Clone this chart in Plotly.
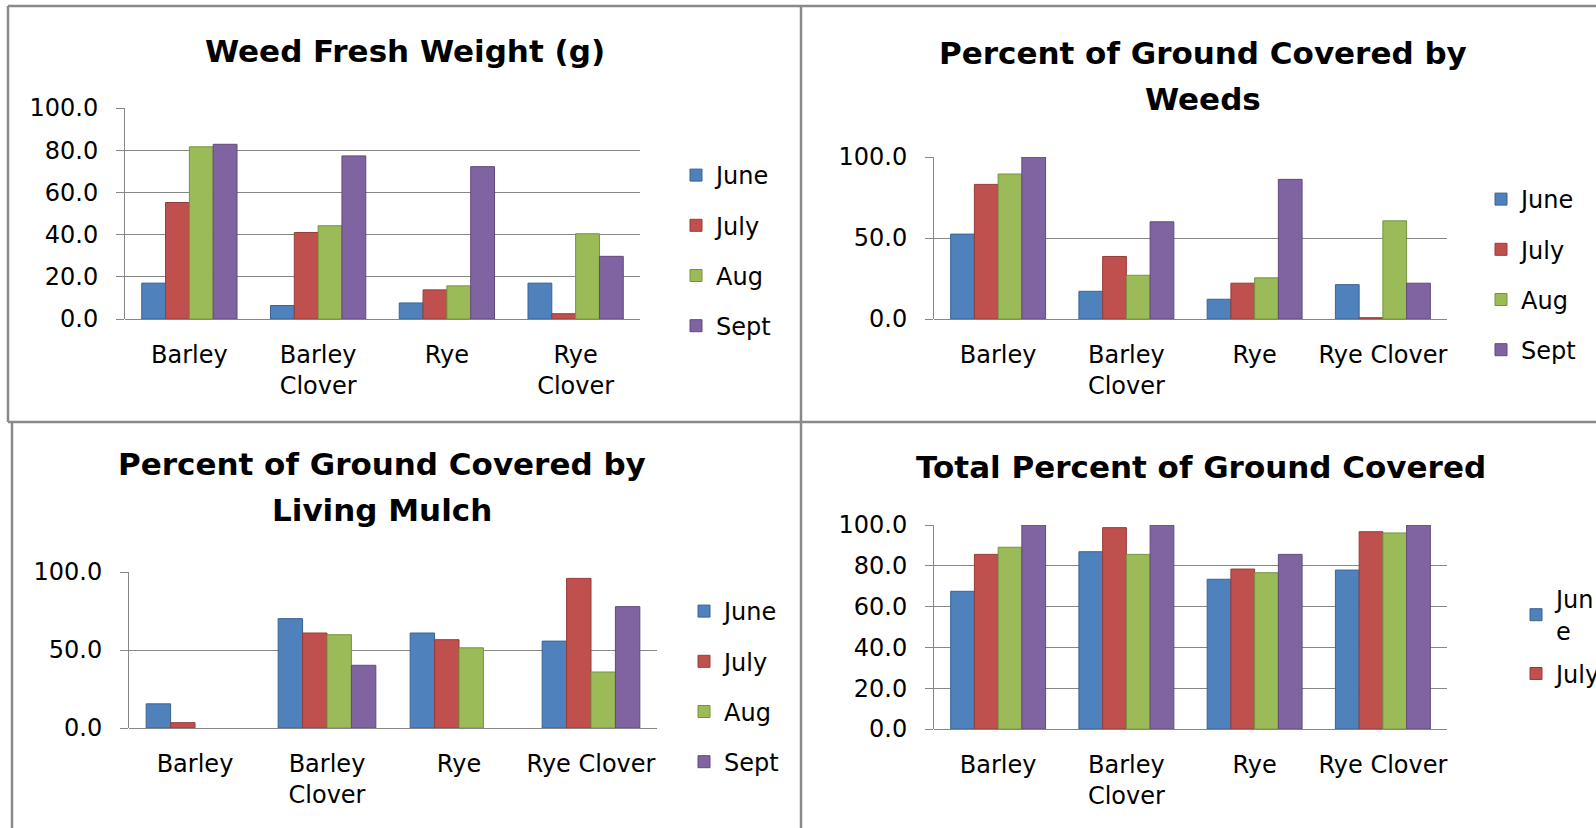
import plotly.graph_objects as go

W, H = 1596, 828

months = ["June", "July", "Aug", "Sept"]
colors = ["#4F81BD", "#C0504D", "#9BBB59", "#8064A2"]
edges = ["#3A6393", "#953C3A", "#76923F", "#5F4A7C"]

cats_wrap_all = ["Barley", "Barley<br>Clover", "Rye", "Rye<br>Clover"]
cats_wrap_one = ["Barley", "Barley<br>Clover", "Rye", "Rye Clover"]

# Weed Fresh Weight (g)
fw_june = [17.0, 6.4, 7.6, 17.0]
fw_july = [55.2, 41.0, 13.8, 2.5]
fw_aug = [81.6, 44.2, 15.7, 40.4]
fw_sept = [82.8, 77.3, 72.2, 29.7]

# Percent of Ground Covered by Weeds
wd_june = [52.4, 17.1, 12.2, 21.2]
wd_july = [83.1, 38.6, 22.1, 0.8]
wd_aug = [89.5, 27.0, 25.4, 60.6]
wd_sept = [100.0, 60.0, 86.2, 22.1]

# Percent of Ground Covered by Living Mulch (no bar drawn -> None)
lm_june = [15.5, 70.1, 60.9, 55.7]
lm_july = [3.4, 60.9, 56.6, 95.9]
lm_aug = [None, 59.8, 51.4, 35.9]
lm_sept = [None, 40.2, None, 77.8]

# Total Percent of Ground Covered
tot_june = [67.5, 86.9, 73.4, 77.9]
tot_july = [85.6, 98.7, 78.4, 96.7]
tot_aug = [89.1, 85.6, 76.6, 96.1]
tot_sept = [100.0, 100.0, 85.6, 100.0]

FONT = "DejaVu Sans"
TSIZE = 24
GRID = "#868686"
BORDER = "#8a8a8a"


def px(x):
    return x / W


def py(y):
    return 1 - y / H


fig = go.Figure()

panels = [
    dict(ax="", cats=cats_wrap_all, data=[fw_june, fw_july, fw_aug, fw_sept],
         x=(125, 640), y=(108, 319), dtick=20, legend="legend", names=months, show=[1, 1, 1, 1]),
    dict(ax="2", cats=cats_wrap_one, data=[wd_june, wd_july, wd_aug, wd_sept],
         x=(934, 1447), y=(157, 319), dtick=50, legend="legend2", names=months, show=[1, 1, 1, 1]),
    dict(ax="3", cats=cats_wrap_one, data=[lm_june, lm_july, lm_aug, lm_sept],
         x=(129, 657), y=(572, 728), dtick=50, legend="legend3", names=months, show=[1, 1, 1, 1]),
    dict(ax="4", cats=cats_wrap_one, data=[tot_june, tot_july, tot_aug, tot_sept],
         x=(934, 1447), y=(525, 729), dtick=20, legend="legend4",
         names=["Jun<br>e", "July", "Aug", "Sept"], show=[1, 1, 0, 0]),
]

layout = dict(
    template="none",
    width=W, height=H,
    margin=dict(l=0, r=0, t=0, b=0, pad=0, autoexpand=False),
    paper_bgcolor="white", plot_bgcolor="white",
    barmode="group", bargap=0.26, bargroupgap=0,
    font=dict(family=FONT, size=TSIZE, color="#000000"),
    showlegend=True,
)

for p in panels:
    a = p["ax"]
    for i in range(4):
        fig.add_trace(go.Bar(
            x=p["cats"], y=p["data"][i], name=p["names"][i],
            marker=dict(color=colors[i], line=dict(color=edges[i], width=1)),
            xaxis="x" + a, yaxis="y" + a,
            legend=p["legend"], legendgroup=p["legend"] + str(i),
            showlegend=bool(p["show"][i]),
        ))
    layout["xaxis" + a] = dict(
        domain=[px(p["x"][0]), px(p["x"][1])], anchor="y" + a,
        automargin=False,
        showgrid=False, showline=False, ticks="", tickangle=0,
        ticklabelstandoff=19, tickfont=dict(size=TSIZE, color="#000"),
        categoryorder="array", categoryarray=p["cats"],
    )
    layout["yaxis" + a] = dict(
        domain=[py(p["y"][1]), py(p["y"][0])], anchor="x" + a,
        automargin=False,
        range=[0, 100], dtick=p["dtick"], tick0=0, tickformat=".1f",
        showgrid=True, gridcolor=GRID, gridwidth=1,
        showline=True, linecolor=GRID, linewidth=1,
        ticks="outside", ticklen=8, tickcolor=GRID, tickwidth=1,
        ticklabelstandoff=13, tickfont=dict(size=TSIZE, color="#000"),
        zeroline=True, zerolinecolor=GRID, zerolinewidth=1,
    )

legpos = {
    "legend": (676, 153, 16),
    "legend2": (1481, 177, 16),
    "legend3": (684, 589, 16),
    "legend4": (1516, 577, 9),
}
for k, (lx, ly, gap) in legpos.items():
    layout[k] = dict(
        x=px(lx), y=py(ly), xanchor="left", yanchor="top",
        traceorder="grouped", tracegroupgap=gap,
        font=dict(family=FONT, size=TSIZE, color="#000"),
        bgcolor="rgba(0,0,0,0)", itemclick=False, borderwidth=0,
    )

title_lines = [
    ("Weed Fresh Weight (g)", 405, 51),
    ("Percent of Ground Covered by", 1203, 53),
    ("Weeds", 1203, 99),
    ("Percent of Ground Covered by", 382, 464),
    ("Living Mulch", 382, 510),
    ("Total Percent of Ground Covered", 1201, 467),
]
layout["annotations"] = [
    dict(text="<b>" + t + "</b>", x=px(x), y=py(y), xref="paper", yref="paper",
         xanchor="center", yanchor="middle", showarrow=False,
         font=dict(family=FONT, size=31, color="#000"))
    for t, x, y in title_lines
]


def line(x0, y0, x1, y1):
    return dict(type="line", xref="paper", yref="paper",
                x0=px(x0), y0=py(y0), x1=px(x1), y1=py(y1),
                line=dict(color=BORDER, width=2.5))


layout["shapes"] = [
    line(8, 6, 1596, 6),
    line(8, 6, 8, 422),
    line(8, 422, 1596, 422),
    line(801, 6, 801, 828),
    line(12, 422, 12, 828),
]

fig.update_layout(**layout)

pin = ("var d=document.getElementById('{plot_id}');"
       "d.style.position='fixed';d.style.top='0px';d.style.left='0px';"
       "document.body.style.margin='0px';document.body.style.overflow='hidden';")
fig.write_html("out.html", post_script=pin, config={"displayModeBar": False})
